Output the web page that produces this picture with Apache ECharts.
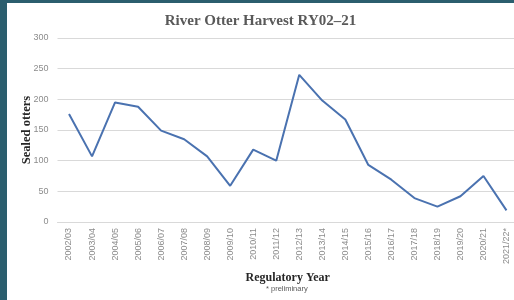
<!DOCTYPE html>
<html lang="en">
<head>
    <meta charset="UTF-8">
    <title>River Otter Harvest</title>
    <script src="https://cdn.jsdelivr.net/npm/echarts@6/dist/echarts.min.js"></script>
    <style>
        body { margin: 0; background: #2b5e6e; }
        #main { position: absolute; left: 7px; top: 3px; width: 507px; height: 297px; background: #fff; }
    </style>
</head>
<body>
<div id="main"></div>
<script type="text/javascript">
    // regulatory years and sealed otter counts
    var years = ["2002/03","2003/04","2004/05","2005/06","2006/07","2007/08","2008/09","2009/10","2010/11","2011/12",
                 "2012/13","2013/14","2014/15","2015/16","2016/17","2017/18","2018/19","2019/20","2020/21","2021/22*"];
    var sealed = [176,107,195,188,149,135,107,59,118,100,240,198,167,93,69,39,25,42,75,19];

    var myChart = echarts.init(document.getElementById("main"));

    var option = {
        backgroundColor: "#fff",
        title: {
            text: "River Otter Harvest RY02\u201321",
            left: "center",
            top: 6,
            textStyle: {fontFamily: "Liberation Serif", fontWeight: "bold", fontSize: 15, color: "#595959"}
        },
        grid: {left: 50.5, right: -4, top: 35, bottom: 78, outerBoundsMode: "none"},
        xAxis: {
            type: "category",
            data: years,
            boundaryGap: true,
            name: "Regulatory Year",
            nameLocation: "middle",
            nameGap: 50,
            nameTextStyle: {fontFamily: "Liberation Serif", fontWeight: "bold", fontSize: 12, color: "#262626"},
            axisLine: {lineStyle: {color: "#d9d9d9"}},
            axisTick: {show: false},
            axisLabel: {rotate: 90, interval: 0, margin: 6, fontSize: 9, color: "#8c8c8c", fontFamily: "Liberation Sans"}
        },
        yAxis: {
            type: "value",
            min: 0,
            max: 300,
            interval: 50,
            name: "Sealed otters",
            nameLocation: "middle",
            nameRotate: 90,
            nameGap: 24,
            nameMoveOverlap: false,
            nameTextStyle: {fontFamily: "Liberation Serif", fontWeight: "bold", fontSize: 12.5, color: "#262626"},
            axisLine: {show: false},
            axisTick: {show: false},
            axisLabel: {margin: 9, fontSize: 9, color: "#8c8c8c", fontFamily: "Liberation Sans"},
            splitLine: {lineStyle: {color: "#d9d9d9", width: 1}}
        },
        graphic: [{
            type: "text",
            left: 259,
            top: 282,
            style: {text: "* preliminary", fontSize: 7.5, fill: "#595959", fontFamily: "Liberation Sans"}
        }],
        series: [{
            type: "line",
            data: sealed,
            symbol: "none",
            lineStyle: {color: "#4a72b0", width: 2},
            animation: false
        }]
    };

    myChart.setOption(option);
</script>
</body>
</html>
